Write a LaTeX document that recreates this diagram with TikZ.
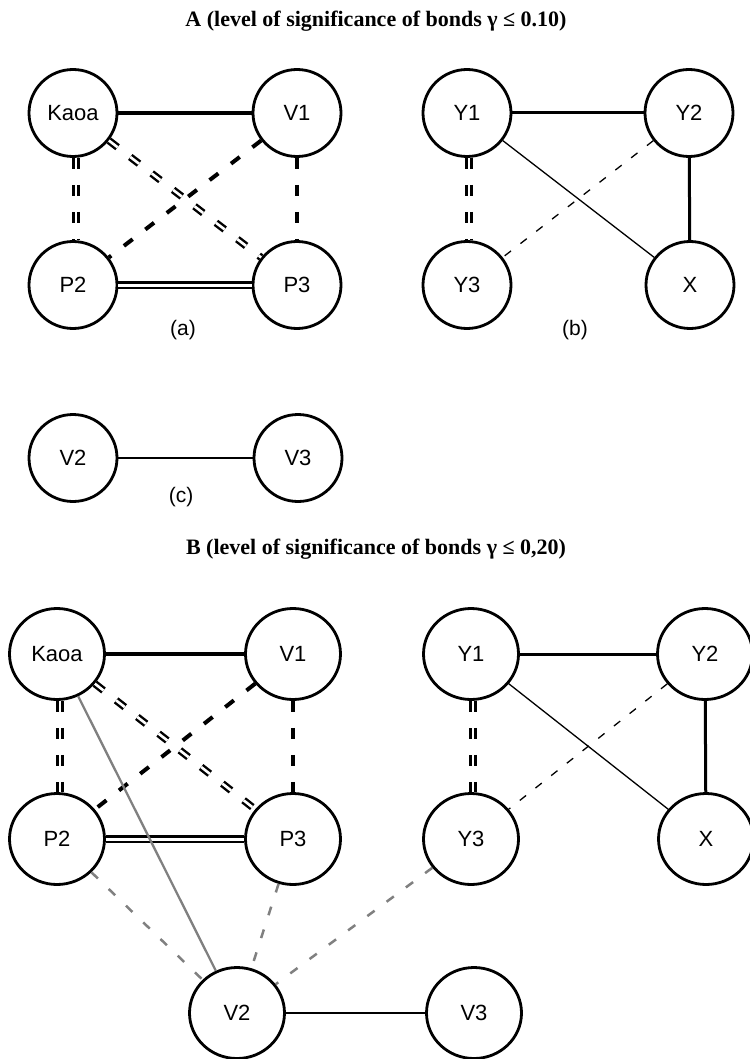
\documentclass[tikz,border=0pt]{standalone}
\usepackage{fontspec}
\setmainfont{Liberation Serif}
\newfontfamily\arial{Liberation Sans}
\usetikzlibrary{shapes.geometric}
\begin{document}
\begin{tikzpicture}[x=1pt,y=-1pt,
  nA/.style={ellipse, draw, line width=2.8pt, minimum width=88pt, minimum height=87pt, inner sep=0pt, font=\arial\fontsize{22}{26}\selectfont},
  nB/.style={nA, minimum width=95pt, minimum height=91pt},
  ttl/.style={font=\bfseries\fontsize{22}{26}\selectfont},
  lbl/.style={font=\arial\fontsize{21}{25}\selectfont},
  thicksolid/.style={line width=4pt},
  medsolid/.style={line width=3pt},
  thinsolid/.style={line width=1.3pt},
  thindash/.style={line width=1.3pt, dash pattern=on 8pt off 12pt},
  thickdash/.style={line width=4pt, dash pattern=on 11pt off 16pt},
  dbldash/.style={double, line width=2.4pt, double distance=2.6pt, dash pattern=on 11pt off 16pt},
  dblsolid/.style={double, line width=2.4pt, double distance=3pt},
  graysolid/.style={draw=gray, line width=2.3pt},
  graydash/.style={draw=gray, line width=2.5pt, dash pattern=on 9pt off 15pt}
]
\useasboundingbox (0,0) rectangle (749,1059);

% ---- Titles
\node[ttl] (tA) at (376,21) {A (level of significance of bonds γ ≤ 0.10)};
\node[ttl] (tB) at (376,549) {B (level of significance of bonds γ ≤ 0,20)};

% ---- A (a)
\node[nA] (aK)  at (73,113)  {Kaoa};
\node[nA] (aV1) at (297,113) {V1};
\node[nA] (aP2) at (73,285)  {P2};
\node[nA] (aP3) at (297,285) {P3};
\node[lbl] (la) at (183,330) {(a)};
\draw[thicksolid] (aK) -- (aV1);
\draw[dbldash] ([xshift=3pt]aK.south) -- ([xshift=3pt]aP2.north);
\draw[dbldash] (aK) -- (aP3);
\draw[thickdash] (aV1) -- (aP2);
\draw[thickdash] (aV1) -- (aP3);
\draw[dblsolid] (aP2) -- (aP3);

% ---- A (b)
\node[nA] (aY1) at (467,113) {Y1};
\node[nA] (aY2) at (689,113) {Y2};
\node[nA] (aY3) at (467,285) {Y3};
\node[nA] (aX)  at (690,285) {X};
\node[lbl] (lb) at (575,330) {(b)};
\draw[medsolid] (aY1) -- (aY2);
\draw[medsolid] (aY2) -- (aX);
\draw[thinsolid] (aY1) -- (aX);
\draw[thindash] (aY2) -- (aY3);
\draw[dbldash] ([xshift=2pt]aY1.south) -- ([xshift=2pt]aY3.north);

% ---- A (c)
\node[nA] (aV2) at (73,458)  {V2};
\node[nA] (aV3) at (298,458) {V3};
\node[lbl] (lc) at (181,497) {(c)};
\draw[thinsolid] (aV2) -- (aV3);

% ---- B
\node[nB] (bK)  at (57,654)  {Kaoa};
\node[nB] (bV1) at (293,654) {V1};
\node[nB] (bP2) at (57,839)  {P2};
\node[nB] (bP3) at (293,839) {P3};
\node[nB] (bY1) at (471,654) {Y1};
\node[nB] (bY2) at (705,654) {Y2};
\node[nB] (bY3) at (471,839) {Y3};
\node[nB] (bX)  at (706,839) {X};
\node[nB] (bV2) at (237,1013) {V2};
\node[nB] (bV3) at (474,1013) {V3};

\draw[thicksolid] (bK) -- (bV1);
\draw[dbldash] ([xshift=3pt]bK.south) -- ([xshift=3pt]bP2.north);
\draw[dbldash] (bK) -- (bP3);
\draw[thickdash] (bV1) -- (bP2);
\draw[thickdash] (bV1) -- (bP3);
\draw[dblsolid] (bP2) -- (bP3);

\draw[medsolid] (bY1) -- (bY2);
\draw[medsolid] (bY2) -- (bX);
\draw[thinsolid] (bY1) -- (bX);
\draw[thindash] (bY2) -- (bY3);
\draw[dbldash] ([xshift=2pt]bY1.south) -- ([xshift=2pt]bY3.north);

\draw[graysolid] (bK) -- (bV2);
\draw[graydash] (bP2) -- (bV2);
\draw[graydash] (bP3) -- (bV2);
\draw[graydash] (bY3) -- (bV2);
\draw[thinsolid] (bV2) -- (bV3);
\end{tikzpicture}
\end{document}
